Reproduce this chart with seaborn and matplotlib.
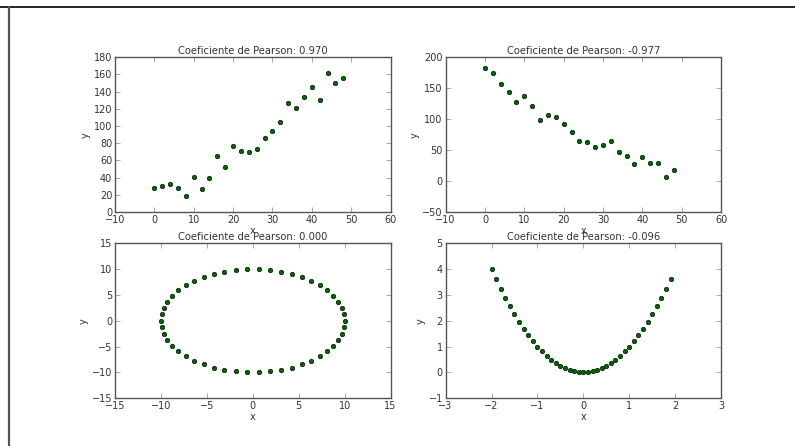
import matplotlib
matplotlib.use("Agg")
import matplotlib.pyplot as plt
from matplotlib.lines import Line2D
from matplotlib.ticker import MultipleLocator
import seaborn as sns
import pandas as pd

# ---- data ----
x_lin = [0, 2, 4, 6, 8, 10, 12, 14, 16, 18, 20, 22, 24, 26, 28, 30, 32, 34, 36, 38, 40, 42, 44, 46, 48]
y_pos = [28.6, 30.5, 33.2, 28.6, 18.5, 41.3, 27.0, 39.4, 65.3, 52.5, 76.9, 70.7, 70.3, 73.0, 86.5,
         94.2, 104.7, 126.3, 121.3, 134.0, 145.2, 129.8, 161.8, 150.2, 155.3]
y_neg = [181.7, 173.7, 157.0, 143.0, 127.4, 136.6, 120.4, 98.9, 106.5, 103.2, 92.0, 78.5, 65.0,
         62.4, 54.3, 58.6, 65.0, 47.8, 39.8, 26.9, 38.7, 29.6, 29.0, 5.9, 18.3]

x_circ = [10.0, 9.92, 9.69, 9.30, 8.76, 8.09, 7.29, 6.37, 5.36, 4.26, 3.09, 1.87, 0.63,
          -0.63, -1.87, -3.09, -4.26, -5.36, -6.37, -7.29, -8.09, -8.76, -9.30, -9.69, -9.92,
          -10.0, -9.92, -9.69, -9.30, -8.76, -8.09, -7.29, -6.37, -5.36, -4.26, -3.09, -1.87, -0.63,
          0.63, 1.87, 3.09, 4.26, 5.36, 6.37, 7.29, 8.09, 8.76, 9.30, 9.69, 9.92]
y_circ = [0.0, 1.25, 2.49, 3.68, 4.82, 5.88, 6.85, 7.71, 8.44, 9.05, 9.51, 9.82, 9.98,
          9.98, 9.82, 9.51, 9.05, 8.44, 7.71, 6.85, 5.88, 4.82, 3.68, 2.49, 1.25,
          0.0, -1.25, -2.49, -3.68, -4.82, -5.88, -6.85, -7.71, -8.44, -9.05, -9.51, -9.82, -9.98,
          -9.98, -9.82, -9.51, -9.05, -8.44, -7.71, -6.85, -5.88, -4.82, -3.68, -2.49, -1.25]

x_par = [-2.0, -1.9, -1.8, -1.7, -1.6, -1.5, -1.4, -1.3, -1.2, -1.1, -1.0, -0.9, -0.8, -0.7,
         -0.6, -0.5, -0.4, -0.3, -0.2, -0.1, 0.0, 0.1, 0.2, 0.3, 0.4, 0.5, 0.6, 0.7, 0.8, 0.9,
         1.0, 1.1, 1.2, 1.3, 1.4, 1.5, 1.6, 1.7, 1.8, 1.9]
y_par = [4.0, 3.61, 3.24, 2.89, 2.56, 2.25, 1.96, 1.69, 1.44, 1.21, 1.0, 0.81, 0.64, 0.49,
         0.36, 0.25, 0.16, 0.09, 0.04, 0.01, 0.0, 0.01, 0.04, 0.09, 0.16, 0.25, 0.36, 0.49,
         0.64, 0.81, 1.0, 1.21, 1.44, 1.69, 1.96, 2.25, 2.56, 2.89, 3.24, 3.61]

titles = ["Coeficiente de Pearson: 0.970", "Coeficiente de Pearson: -0.977",
          "Coeficiente de Pearson: 0.000", "Coeficiente de Pearson: -0.096"]

# (x, y, xlim, ylim, x step, y step)
panels = [
    (x_lin, y_pos, (-10, 60), (0, 180), 10, 20),
    (x_lin, y_neg, (-10, 60), (-50, 200), 10, 50),
    (x_circ, y_circ, (-15, 15), (-15, 15), 5, 5),
    (x_par, y_par, (-3, 3), (-1, 5), 1, 1),
]

sns.set_theme(style="white")
plt.rcParams.update({
    "font.family": ["DejaVu Sans"],
    "axes.edgecolor": "#555555",
    "axes.linewidth": 1.0,
    "xtick.direction": "in",
    "ytick.direction": "in",
    "xtick.top": True,
    "ytick.right": True,
    "xtick.bottom": True,
    "ytick.left": True,
    "xtick.major.size": 3.5,
    "ytick.major.size": 3.5,
    "xtick.major.width": 0.6,
    "ytick.major.width": 0.6,
    "xtick.color": "#999999",
    "ytick.color": "#999999",
    "xtick.labelcolor": "#333333",
    "ytick.labelcolor": "#333333",
    "xtick.labelsize": 7,
    "ytick.labelsize": 7,
    "axes.labelsize": 7,
    "axes.titlesize": 7.2,
    "axes.labelcolor": "#333333",
    "text.color": "#333333",
})

fig, axes = plt.subplots(2, 2, figsize=(7.95, 4.46), dpi=100)
fig.subplots_adjust(left=0.1447, right=0.907, top=0.872, bottom=0.107, wspace=0.2, hspace=0.2)

for ax, (xs, ys, xl, yl, xstep, ystep), title in zip(axes.flat, panels, titles):
    df = pd.DataFrame({"x": xs, "y": ys})
    sns.scatterplot(data=df, x="x", y="y", ax=ax, color="#006400", edgecolor="black",
                    linewidth=0.4, s=11, zorder=3)
    ax.set_xlim(*xl)
    ax.set_ylim(*yl)
    ax.xaxis.set_major_locator(MultipleLocator(xstep))
    ax.yaxis.set_major_locator(MultipleLocator(ystep))
    ax.set_title(title, pad=2)
    ax.set_xlabel("x", labelpad=1)
    ax.set_ylabel("y", labelpad=2)
    ax.tick_params(pad=2)

# frame lines around the figure (top and left only, as in the cropped reference)
fig.add_artist(Line2D([0, 1], [1 - 6.5 / 446, 1 - 6.5 / 446], transform=fig.transFigure,
                      color="black", linewidth=1.2))
fig.add_artist(Line2D([8.5 / 795, 8.5 / 795], [0, 1 - 6.5 / 446], transform=fig.transFigure,
                      color="#555555", linewidth=1.6))

fig.savefig("out.png", dpi=100)
